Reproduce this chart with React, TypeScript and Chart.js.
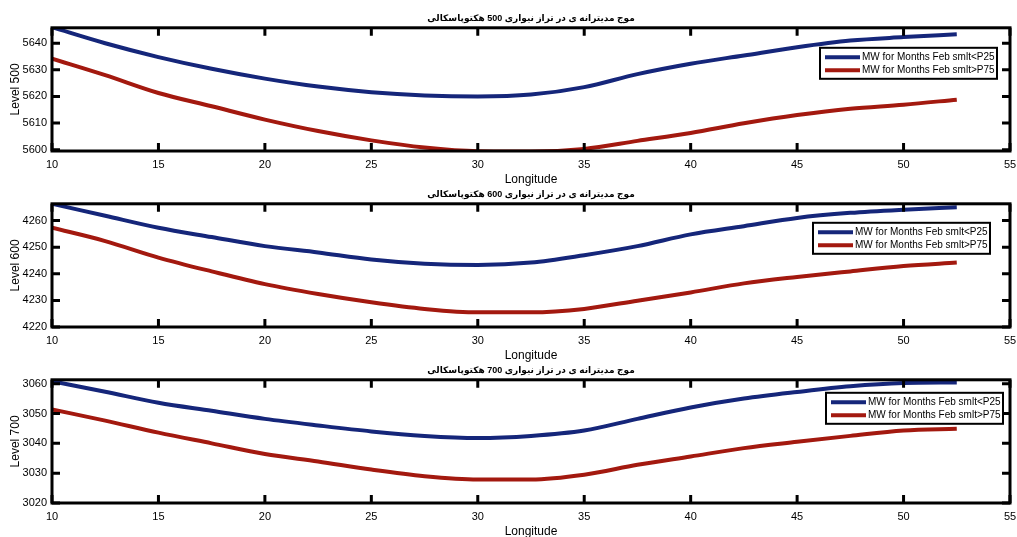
import React, { useEffect, useRef } from "react";
import { Chart, registerables } from "chart.js";

Chart.register(...registerables);

// ---------- data ----------
const longitudes = [10, 12.5, 15, 17.5, 20, 22.5, 25, 27.5, 30, 32.5, 35, 37.5, 40, 42.5, 45, 47.5, 50, 52.5];

const level500Low = [5646, 5640, 5634.8, 5630.4, 5626.7, 5623.7, 5621.6, 5620.4, 5620, 5620.7, 5623.5, 5628.4, 5632.3, 5635.4, 5638.5, 5641, 5642.3, 5643.4];
const level500High = [5634.2, 5628, 5621.3, 5616.3, 5611.3, 5607, 5603.5, 5600.8, 5599.4, 5599.3, 5600.3, 5603.3, 5606.3, 5609.9, 5613, 5615.4, 5616.9, 5618.8];

const level600Low = [4266.3, 4261.8, 4257.3, 4253.8, 4250.4, 4248, 4245.4, 4243.8, 4243.3, 4244.2, 4247, 4250.4, 4254.8, 4257.9, 4261, 4262.9, 4264.1, 4265];
const level600High = [4257.3, 4252.3, 4246.1, 4240.9, 4236.1, 4232.4, 4229.3, 4226.8, 4225.5, 4225.5, 4226.8, 4229.9, 4233, 4236.4, 4238.8, 4240.9, 4242.9, 4244.2];

const level700Low = [3060.8, 3057.3, 3053.6, 3050.9, 3048.2, 3046, 3044, 3042.5, 3041.8, 3042.5, 3044.3, 3048.2, 3052, 3055, 3057.2, 3059.1, 3060.2, 3060.4];
const level700High = [3051.4, 3047.6, 3043.6, 3040, 3036.4, 3033.9, 3031.2, 3029, 3027.9, 3027.9, 3029.5, 3032.8, 3035.6, 3038.4, 3040.5, 3042.5, 3044.3, 3044.9];

const seriesLabels = ["MW for Months Feb smlt<P25", "MW for Months Feb smlt>P75"];
const panelTitles = [
  "موج مدیترانه ی در تراز نیواری 500 هکتوپاسکالی",
  "موج مدیترانه ی در تراز نیواری 600 هکتوپاسکالی",
  "موج مدیترانه ی در تراز نیواری 700 هکتوپاسکالی",
];
const yTitles = ["Level 500", "Level 600", "Level 700"];
const xTitle = "Longitude";
const yRanges = [
  [5599.5, 5645.8],
  [4220, 4266.3],
  [3020, 3061.3],
];

const BLUE = "#15267a";
const RED = "#a3190f";
const FONT = "'Liberation Sans', Arial, 'DejaVu Sans', sans-serif";

// ---------- matlab-like frame + legend plugin ----------
const matlabPlugin = {
  id: "matlabFrame",
  afterDatasetsDraw(chart: any, _args: any, opts: any) {
    const { ctx, chartArea: a, scales } = chart;
    const xs = scales.x;
    const ys = scales.y;
    ctx.save();
    ctx.strokeStyle = "#000";
    ctx.lineWidth = 3;
    ctx.strokeRect(a.left, a.top, a.right - a.left, a.bottom - a.top);
    const tl = 8;
    ctx.beginPath();
    xs.ticks.forEach((t: any) => {
      const px = xs.getPixelForValue(t.value);
      ctx.moveTo(px, a.bottom);
      ctx.lineTo(px, a.bottom - tl);
      ctx.moveTo(px, a.top);
      ctx.lineTo(px, a.top + tl);
    });
    ys.ticks.forEach((t: any) => {
      const py = ys.getPixelForValue(t.value);
      ctx.moveTo(a.left, py);
      ctx.lineTo(a.left + tl, py);
      ctx.moveTo(a.right, py);
      ctx.lineTo(a.right - tl, py);
    });
    ctx.stroke();

    // legend box
    const w = 177;
    const h = 31;
    const bx = a.right - opts.rightOffset - w;
    const by = a.top + opts.topOffset;
    ctx.fillStyle = "#fff";
    ctx.fillRect(bx, by, w, h);
    ctx.lineWidth = 2;
    ctx.strokeStyle = "#000";
    ctx.strokeRect(bx, by, w, h);
    const rows = [9.5, 22.5];
    ctx.font = `10px ${FONT}`;
    ctx.textBaseline = "middle";
    ctx.textAlign = "left";
    chart.data.datasets.forEach((ds: any, i: number) => {
      const ry = by + rows[i];
      ctx.strokeStyle = ds.borderColor;
      ctx.lineWidth = 4;
      ctx.beginPath();
      ctx.moveTo(bx + 5, ry);
      ctx.lineTo(bx + 40, ry);
      ctx.stroke();
      ctx.fillStyle = "#000";
      ctx.fillText(ds.label, bx + 42, ry);
    });
    ctx.restore();
  },
};

type PanelProps = {
  idx: number;
  low: number[];
  high: number[];
  top: number;
  legendRight: number;
  legendTop: number;
};

function Panel({ idx, low, high, top, legendRight, legendTop }: PanelProps) {
  const ref = useRef<HTMLCanvasElement | null>(null);
  useEffect(() => {
    if (!ref.current) return;
    const chart = new Chart(ref.current, {
      type: "line",
      data: {
        datasets: [
          {
            label: seriesLabels[0],
            data: longitudes.map((x, i) => ({ x, y: low[i] })),
            borderColor: BLUE,
            backgroundColor: BLUE,
            borderWidth: 4,
            pointRadius: 0,
            cubicInterpolationMode: "monotone",
          },
          {
            label: seriesLabels[1],
            data: longitudes.map((x, i) => ({ x, y: high[i] })),
            borderColor: RED,
            backgroundColor: RED,
            borderWidth: 4,
            pointRadius: 0,
            cubicInterpolationMode: "monotone",
          },
        ],
      },
      options: {
        animation: false,
        responsive: false,
        maintainAspectRatio: false,
        layout: { padding: { left: 0, right: 7, top: 0, bottom: 0 } },
        plugins: {
          legend: { display: false },
          tooltip: { enabled: false },
          title: {
            display: true,
            fullSize: false,
            text: panelTitles[idx],
            color: "#000",
            font: { family: FONT, size: 9, weight: "bold", lineHeight: 1.2 },
            padding: { top: 13, bottom: 4 },
          },
          matlabFrame: { rightOffset: legendRight, topOffset: legendTop },
        } as any,
        scales: {
          x: {
            type: "linear",
            min: 10,
            max: 55,
            grid: { display: false, drawTicks: false },
            border: { display: false },
            ticks: {
              stepSize: 5,
              color: "#000",
              padding: 7,
              maxRotation: 0,
              font: { family: FONT, size: 11 },
            },
            title: {
              display: true,
              text: xTitle,
              color: "#000",
              font: { family: FONT, size: 12 },
              padding: { top: 0, bottom: 3 },
            },
            afterFit: (s: any) => {
              s.height = 39;
              s.paddingLeft = 0;
              s.paddingRight = 0;
            },
          },
          y: {
            type: "linear",
            min: yRanges[idx][0],
            max: yRanges[idx][1],
            grid: { display: false, drawTicks: false },
            border: { display: false },
            ticks: {
              stepSize: 10,
              includeBounds: false,
              color: "#000",
              padding: 5,
              font: { family: FONT, size: 11 },
              callback: (v: any) => String(v),
            },
            title: {
              display: true,
              text: yTitles[idx],
              color: "#000",
              font: { family: FONT, size: 12 },
              padding: { top: 8, bottom: 0 },
            },
            afterFit: (s: any) => {
              s.width = 52;
              s.paddingTop = 0;
              s.paddingBottom = 0;
            },
          },
        },
      },
      plugins: [matlabPlugin],
    } as any);
    return () => chart.destroy();
  }, []);
  return (
    <canvas
      ref={ref}
      width={1017}
      height={190}
      style={{ position: "absolute", left: 0, top, width: 1017, height: 190 }}
    />
  );
}

export default function App() {
  return (
    <div
      style={{
        position: "absolute",
        left: 0,
        top: 0,
        width: 1017,
        height: 537,
        overflow: "hidden",
        background: "#fff",
      }}
    >
      <Panel idx={0} low={level500Low} high={level500High} top={0} legendRight={13} legendTop={20} />
      <Panel idx={1} low={level600Low} high={level600High} top={176} legendRight={20} legendTop={19} />
      <Panel idx={2} low={level700Low} high={level700High} top={352} legendRight={7} legendTop={13} />
    </div>
  );
}
